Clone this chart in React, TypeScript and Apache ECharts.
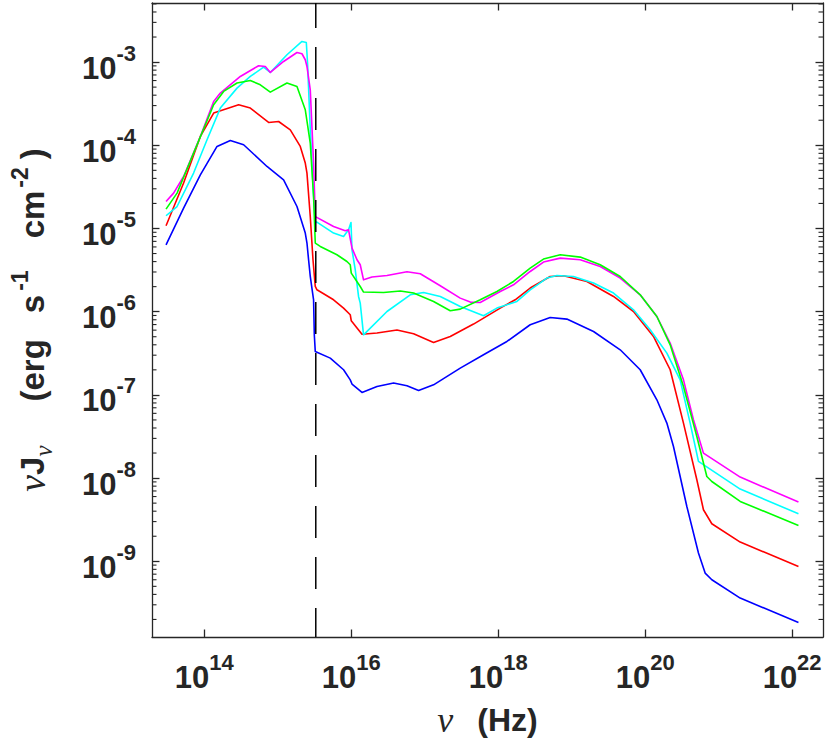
import React, { useEffect, useRef } from "react";
import * as echarts from "echarts";

// Axis extents (log10 units)
const X_MIN = 13.288;
const X_MAX = 22.42;
const Y_MIN = -9.91;
const Y_MAX = -2.29;

// Tick positions (log10 units)
const xMajorTicks = [14, 16, 18, 20, 22];
const yMajorTicks = [-9, -8, -7, -6, -5, -4, -3];
const yMinorFactors = [2, 3, 4, 5, 6, 7, 8, 9];

// Vertical dashed marker (log10 nu)
const markerLogNu = 15.517;

// Series data: [log10(nu / Hz), log10(nu J_nu / erg s^-1 cm^-2)]
const magenta: [number, number][] = [
  [13.479, -4.675], [13.582, -4.575], [13.718, -4.375], [13.946, -3.894], [14.127, -3.474],
  [14.218, -3.373], [14.49, -3.173], [14.739, -3.044], [14.83, -3.053], [14.898, -3.125],
  [15.079, -2.993], [15.261, -2.885], [15.329, -2.9], [15.374, -2.972], [15.397, -3.053],
  [15.442, -3.333], [15.487, -4.214], [15.51, -4.856], [15.524, -4.863], [15.759, -4.976],
  [15.918, -5.028], [15.963, -5.016], [16.01, -5.236], [16.078, -5.376], [16.122, -5.436],
  [16.167, -5.617], [16.282, -5.584], [16.486, -5.565], [16.758, -5.52], [16.939, -5.544],
  [17.211, -5.689], [17.483, -5.837], [17.619, -5.885], [17.755, -5.889], [18.027, -5.757],
  [18.208, -5.677], [18.435, -5.517], [18.616, -5.404], [18.844, -5.356], [19.116, -5.376],
  [19.388, -5.457], [19.66, -5.596], [19.932, -5.797], [20.159, -6.058], [20.34, -6.377],
  [20.521, -6.819], [20.657, -7.299], [20.793, -7.7], [21.293, -7.988], [22.086, -8.288],
];

const cyan: [number, number][] = [
  [13.479, -4.847], [13.629, -4.736], [13.854, -4.334], [14.037, -3.934], [14.218, -3.553],
  [14.445, -3.313], [14.626, -3.173], [14.807, -3.06], [14.898, -3.125], [15.125, -2.912],
  [15.329, -2.752], [15.388, -2.764], [15.405, -3.012], [15.442, -3.814], [15.487, -4.615],
  [15.51, -4.935], [15.527, -4.92], [15.759, -5.055], [15.895, -5.096], [15.963, -5.016],
  [15.996, -4.928], [16.01, -5.256], [16.054, -5.496], [16.099, -5.817], [16.122, -5.897],
  [16.167, -6.278], [16.486, -5.998], [16.803, -5.797], [16.984, -5.769], [17.211, -5.817],
  [17.483, -5.938], [17.8, -6.049], [17.982, -5.957], [18.254, -5.877], [18.435, -5.737],
  [18.662, -5.596], [18.799, -5.565], [19.024, -5.577], [19.297, -5.656], [19.569, -5.776],
  [19.841, -5.977], [20.068, -6.217], [20.295, -6.498], [20.476, -6.819], [20.612, -7.339],
  [20.725, -7.8], [21.293, -8.132], [22.086, -8.429],
];

const green: [number, number][] = [
  [13.479, -4.767], [13.629, -4.575], [13.854, -4.094], [14.127, -3.513], [14.263, -3.353],
  [14.445, -3.252], [14.626, -3.221], [14.762, -3.273], [14.898, -3.361], [15.125, -3.252],
  [15.261, -3.293], [15.374, -3.573], [15.442, -3.974], [15.487, -4.615], [15.51, -5.175],
  [15.578, -5.216], [15.805, -5.316], [15.941, -5.397], [15.986, -5.436], [16.0, -5.536],
  [16.122, -5.697], [16.167, -5.764], [16.439, -5.769], [16.667, -5.752], [16.848, -5.776],
  [17.12, -5.877], [17.347, -5.989], [17.483, -5.969], [17.755, -5.857], [17.982, -5.757],
  [18.208, -5.637], [18.435, -5.476], [18.616, -5.368], [18.844, -5.316], [19.116, -5.344],
  [19.388, -5.436], [19.66, -5.577], [19.932, -5.797], [20.159, -6.058], [20.34, -6.398],
  [20.521, -6.899], [20.703, -7.5], [20.839, -7.981], [20.907, -8.041], [21.293, -8.281],
  [22.086, -8.57],
];

const red: [number, number][] = [
  [13.479, -4.968], [13.718, -4.454], [13.946, -3.894], [14.127, -3.613], [14.467, -3.513],
  [14.626, -3.553], [14.875, -3.726], [15.011, -3.714], [15.17, -3.814], [15.306, -4.014],
  [15.374, -4.214], [15.397, -4.334], [15.442, -4.856], [15.479, -5.376], [15.51, -5.697],
  [15.533, -5.737], [15.759, -5.857], [15.895, -5.957], [15.986, -6.037], [16.0, -6.109],
  [16.078, -6.197], [16.146, -6.272], [16.35, -6.257], [16.622, -6.22], [16.848, -6.266],
  [17.12, -6.37], [17.347, -6.298], [17.664, -6.149], [18.027, -5.957], [18.231, -5.857],
  [18.435, -5.716], [18.707, -5.577], [18.888, -5.569], [19.207, -5.637], [19.569, -5.817],
  [19.841, -5.998], [20.113, -6.298], [20.34, -6.698], [20.521, -7.339], [20.703, -8.02],
  [20.793, -8.381], [20.907, -8.549], [21.293, -8.769], [22.086, -9.063],
];

const blue: [number, number][] = [
  [13.479, -5.196], [13.718, -4.755], [13.946, -4.355], [14.173, -4.014], [14.354, -3.942],
  [14.535, -3.994], [14.853, -4.255], [15.079, -4.415], [15.261, -4.736], [15.374, -5.055],
  [15.397, -5.175], [15.419, -5.376], [15.442, -5.577], [15.487, -5.857], [15.497, -6.277],
  [15.51, -6.478], [15.714, -6.558], [15.895, -6.698], [15.986, -6.819], [16.01, -6.87],
  [16.146, -6.971], [16.35, -6.899], [16.576, -6.858], [16.758, -6.891], [16.916, -6.947],
  [17.12, -6.879], [17.483, -6.678], [17.8, -6.518], [18.118, -6.358], [18.435, -6.157],
  [18.707, -6.07], [18.934, -6.089], [19.297, -6.238], [19.66, -6.458], [19.932, -6.698],
  [20.159, -7.059], [20.295, -7.339], [20.385, -7.62], [20.567, -8.341], [20.725, -8.901],
  [20.816, -9.142], [20.907, -9.222], [21.293, -9.442], [22.086, -9.736],
];

const seriesList: { name: string; color: string; data: [number, number][] }[] = [
  { name: "blue", color: "#0000ff", data: blue },
  { name: "red", color: "#ff0000", data: red },
  { name: "cyan", color: "#00ffff", data: cyan },
  { name: "magenta", color: "#ff00ff", data: magenta },
  { name: "green", color: "#00ff00", data: green },
];

const AX = "#262626";
const SANS = "'Liberation Sans', Arial, Helvetica, sans-serif";
const SERIF = "'Liberation Serif', 'Times New Roman', serif";

function yMinorTicks(): number[] {
  const out: number[] = [];
  for (let n = -10; n <= -3; n++) {
    for (const k of yMinorFactors) {
      const v = n + Math.log10(k);
      if (v > Y_MIN && v < Y_MAX) out.push(v);
    }
  }
  return out;
}

const labelRich = {
  b: { fontFamily: SANS, fontWeight: "bold", fontSize: 31, lineHeight: 52, color: AX },
  s: { fontFamily: SANS, fontWeight: "bold", fontSize: 22, lineHeight: 22, color: AX, verticalAlign: "top" },
};

function axisCommon(min: number, max: number) {
  return {
    type: "value",
    min,
    max,
    splitLine: { show: false },
    axisLine: { show: true, onZero: false, lineStyle: { color: AX, width: 1.3 } },
  };
}

export default function App() {
  const ref = useRef<HTMLDivElement>(null);
  useEffect(() => {
    if (!ref.current) return;
    const chart = echarts.init(ref.current, undefined, { renderer: "svg" });
    const minor = yMinorTicks();
    const majorTick = (vals: number[]) => ({
      show: true, inside: true, length: 7.5, customValues: vals,
      lineStyle: { color: AX, width: 1.3 },
    });
    const titleBase = { fontFamily: SANS, fontWeight: "bold", fontSize: 33, lineHeight: 48, color: AX };
    const option: any = {
      animation: false,
      backgroundColor: "#ffffff",
      grid: { left: 152, right: 7, top: 3, bottom: 105, containLabel: false, outerBoundsMode: "none" },
      xAxis: [
        {
          ...axisCommon(X_MIN, X_MAX),
          position: "bottom",
          axisTick: majorTick(xMajorTicks),
          axisLabel: {
            show: true,
            customValues: xMajorTicks,
            margin: 14,
            formatter: (v: number) => `{b|10}{s|${Math.round(v)}}`,
            rich: labelRich,
          },
          name: "{n|ν}{h|(Hz)}",
          nameLocation: "middle",
          nameGap: 63,
          nameTextStyle: {
            rich: {
              n: { fontFamily: SERIF, fontStyle: "italic", fontSize: 36, lineHeight: 40, color: AX },
              h: { fontFamily: SANS, fontWeight: "bold", fontSize: 32, lineHeight: 40, color: AX, padding: [0, 0, 0, 24] },
            },
          },
        },
        {
          ...axisCommon(X_MIN, X_MAX),
          position: "top",
          axisTick: majorTick(xMajorTicks),
          axisLabel: { show: false },
        },
      ],
      yAxis: [
        {
          ...axisCommon(Y_MIN, Y_MAX),
          position: "left",
          axisTick: majorTick(yMajorTicks),
          axisLabel: {
            show: true,
            customValues: yMajorTicks,
            margin: 16,
            padding: [12, 0, 0, 0],
            formatter: (v: number) => `{b|10}{s|-${Math.abs(Math.round(v))}}`,
            rich: labelRich,
          },
          name: "{n|ν}{J|J}{sub|ν}{b1|(erg}{b2|s}{sup1|-1}{b3|cm}{sup2|-2}{b4|)}",
          nameLocation: "middle",
          nameRotate: 90,
          nameGap: 96,
          nameTextStyle: {
            rich: {
              n: { fontFamily: SERIF, fontStyle: "italic", fontSize: 38, lineHeight: 48, color: AX },
              J: { ...titleBase },
              sub: { fontFamily: SERIF, fontStyle: "italic", fontSize: 25, lineHeight: 25, color: AX, verticalAlign: "bottom" },
              b1: { ...titleBase, padding: [0, 0, 0, 44] },
              b2: { ...titleBase, padding: [0, 0, 0, 26] },
              sup1: { fontFamily: SANS, fontWeight: "bold", fontSize: 23, lineHeight: 23, color: AX, verticalAlign: "top", padding: [0, 0, 0, 4] },
              b3: { ...titleBase, padding: [0, 0, 0, 32] },
              sup2: { fontFamily: SANS, fontWeight: "bold", fontSize: 23, lineHeight: 23, color: AX, verticalAlign: "top", padding: [0, 0, 0, 3] },
              b4: { ...titleBase, padding: [0, 0, 0, 8] },
            },
          },
        },
        {
          ...axisCommon(Y_MIN, Y_MAX),
          position: "right",
          axisTick: majorTick(yMajorTicks),
          axisLabel: { show: false },
        },
      ],
      series: [
        ...seriesList.map((s) => ({
          name: s.name,
          type: "line",
          xAxisIndex: 0,
          yAxisIndex: 0,
          data: s.data,
          showSymbol: false,
          symbol: "none",
          smooth: false,
          silent: true,
          lineStyle: { color: s.color, width: 1.6, join: "round" },
          itemStyle: { color: s.color },
        })),
        {
          name: "marker",
          type: "line",
          xAxisIndex: 0,
          yAxisIndex: 0,
          data: [
            [markerLogNu, Y_MAX],
            [markerLogNu, Y_MIN],
          ],
          showSymbol: false,
          symbol: "none",
          silent: true,
          z: 5,
          lineStyle: { color: "#000000", width: 1.5, type: [32, 19], dashOffset: 7 },
        },
        {
          name: "minorTicks",
          type: "custom",
          xAxisIndex: 0,
          yAxisIndex: 0,
          silent: true,
          clip: false,
          z: 6,
          data: minor.map((v) => [X_MIN, v]),
          renderItem: (_params: any, api: any) => {
            const v = api.value(1);
            const pL = api.coord([X_MIN, v]);
            const pR = api.coord([X_MAX, v]);
            const st = { stroke: AX, lineWidth: 1.1 };
            return {
              type: "group",
              children: [
                { type: "line", shape: { x1: pL[0], y1: pL[1], x2: pL[0] + 4.5, y2: pL[1] }, style: st },
                { type: "line", shape: { x1: pR[0], y1: pR[1], x2: pR[0] - 4.5, y2: pR[1] }, style: st },
              ],
            };
          },
        },
      ],
    };
    chart.setOption(option);
    return () => chart.dispose();
  }, []);
  return (
    <div
      ref={ref}
      style={{ position: "fixed", left: 0, top: 0, width: 830, height: 742, background: "#fff" }}
    />
  );
}
